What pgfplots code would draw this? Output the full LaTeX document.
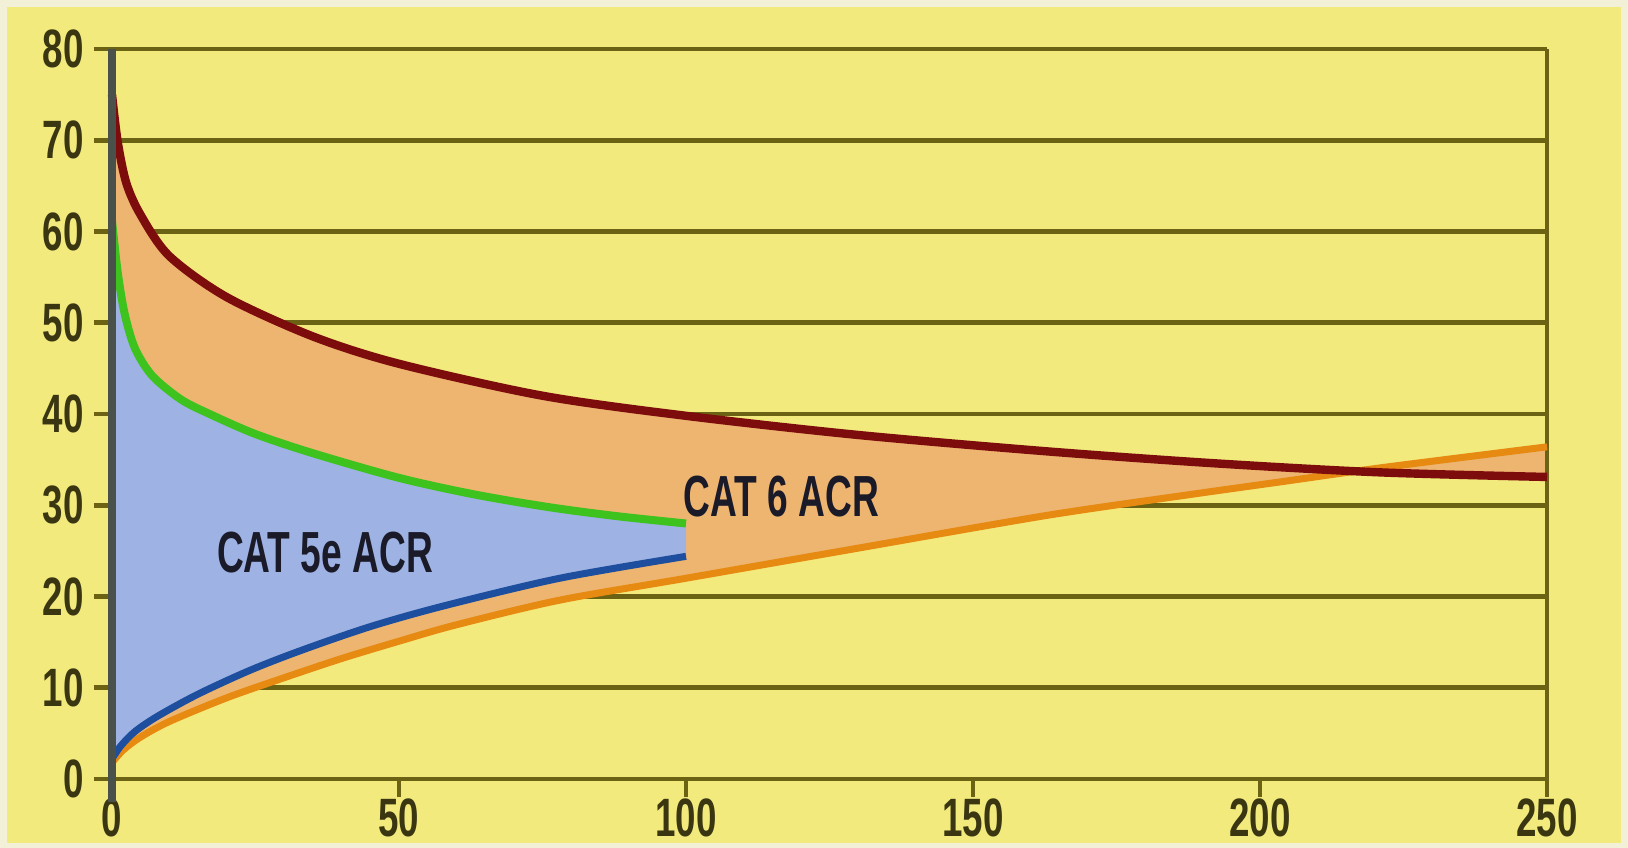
\documentclass[border=0pt]{standalone}
\usepackage{graphicx}
\usepackage{pgfplots}
\pgfplotsset{compat=1.18}
\usepgfplotslibrary{fillbetween}
\usepackage{pgfplotstable}
\usetikzlibrary{calc}
\usepackage{fontspec}
\setmainfont{Liberation Sans}

\definecolor{bgyellow}{HTML}{F2EA7C}
\definecolor{edgecol}{HTML}{F3F0D8}
\definecolor{gridolive}{HTML}{6B6214}
\definecolor{axisslate}{HTML}{4A504A}
\definecolor{ticktext}{HTML}{3A3612}
\definecolor{labtext}{HTML}{1A1A28}
\definecolor{redline}{HTML}{7D0C0C}
\definecolor{greenline}{HTML}{3EC21E}
\definecolor{blueline}{HTML}{1E4E9E}
\definecolor{orangeline}{HTML}{E68A12}
\definecolor{fillblue}{HTML}{9EB3E4}
\definecolor{fillorange}{HTML}{EEB570}

\newcommand\tk[1]{\scalebox{0.68}[1]{\fontsize{27}{27}\selectfont\bfseries #1}}
\newcommand\lab[1]{\scalebox{0.64}[1]{\fontsize{29}{29}\selectfont\bfseries #1}}

% CAT 6 upper curve
\pgfplotstableread{
x y
0 75
1 69.8
2.5 65.3
5 61.8
10 57.3
20 52.8
35 48.5
50 45.5
75 42.0
100 39.8
130 37.7
163 35.9
192 34.6
221 33.6
250 33.1
}\redtab

% CAT 5e upper curve
\pgfplotstableread{
x y
0 61.2
1 55.5
2.2 51.0
4 47.2
7 44.2
12 41.6
17 40.0
25 37.8
35 35.7
50 33.0
63 31.2
76 29.8
88 28.8
100 28.0
}\greentab

% CAT 5e lower curve
\pgfplotstableread{
x y
0 2.2
1.5 3.6
4 5.2
8 6.9
15 9.3
24 11.9
33 14.1
45 16.7
58 19.0
78 22.0
100 24.4
}\bluetab

% CAT 6 lower curve
\pgfplotstableread{
x y
0 1.8
2 3.2
5 4.6
10 6.3
20 8.9
30 11.1
40 13.2
50 15.1
60 16.9
78 19.6
100 22.0
130 25.3
163 28.9
187 31.1
204 32.6
221 34.1
250 36.4
}\orangetab

\begin{document}
\begin{tikzpicture}
\begin{axis}[
    set layers,
    scale only axis,
    width=717.5pt, height=365pt,
    at={(0,0)}, anchor=south west,
    xmin=0, xmax=250, ymin=0, ymax=80,
    xtick={0,50,...,250}, ytick={0,10,...,80},
    xticklabels={\tk{0},\tk{50},\tk{100},\tk{150},\tk{200},\tk{250}},
    yticklabels={\tk{0},\tk{10},\tk{20},\tk{30},\tk{40},\tk{50},\tk{60},\tk{70},\tk{80}},
    xtick pos=bottom, ytick pos=left,
    axis line style={draw=none},
    ymajorgrids,
    grid style={gridolive, line width=2.4pt},
    major tick style={gridolive, line width=2.4pt},
    tick align=outside,
    major tick length=9pt,
    tick label style={text=ticktext, inner sep=0pt},
    yticklabel style={xshift=-5pt},
    xticklabel style={yshift=-0.5pt},
    clip=false,
]
\begin{pgfonlayer}{axis background}
\fill[edgecol] ($(rel axis cs:0,0)+(-56pt,-34.5pt)$) rectangle ($(rel axis cs:1,1)+(40.5pt,24.5pt)$);
\fill[bgyellow] ($(rel axis cs:0,0)+(-52.5pt,-32pt)$) rectangle ($(rel axis cs:1,1)+(37pt,21pt)$);
\end{pgfonlayer}

\addplot[name path=R, draw=none, smooth, forget plot] table {\redtab};
\addplot[name path=O, draw=none, smooth, forget plot] table {\orangetab};
\addplot[name path=G, draw=none, smooth, forget plot] table {\greentab};
\addplot[name path=B, draw=none, smooth, forget plot] table {\bluetab};
\addplot[fillorange, draw=none] fill between[of=R and O];
\addplot[fillblue, draw=none] fill between[of=G and B];

\draw[gridolive, line width=2.4pt] (axis cs:0,0) -- (axis cs:250,0);
\draw[gridolive, line width=2.4pt] (axis cs:250,0) -- (axis cs:250,80);

\addplot[orangeline, line width=3.5pt, smooth] table {\orangetab};
\addplot[redline, line width=4.2pt, smooth] table {\redtab};
\addplot[blueline, line width=3.5pt, smooth] table {\bluetab};
\addplot[greenline, line width=4pt, smooth] table {\greentab};

\draw[axisslate, line width=4pt] (axis cs:0,-2.5) -- (axis cs:0,80);

\node[text=labtext] at (axis cs:37.1,24.8) {\lab{CAT 5e ACR}};
\node[text=labtext] at (axis cs:116.6,31.0) {\lab{CAT 6 ACR}};
\end{axis}
\end{tikzpicture}
\end{document}
